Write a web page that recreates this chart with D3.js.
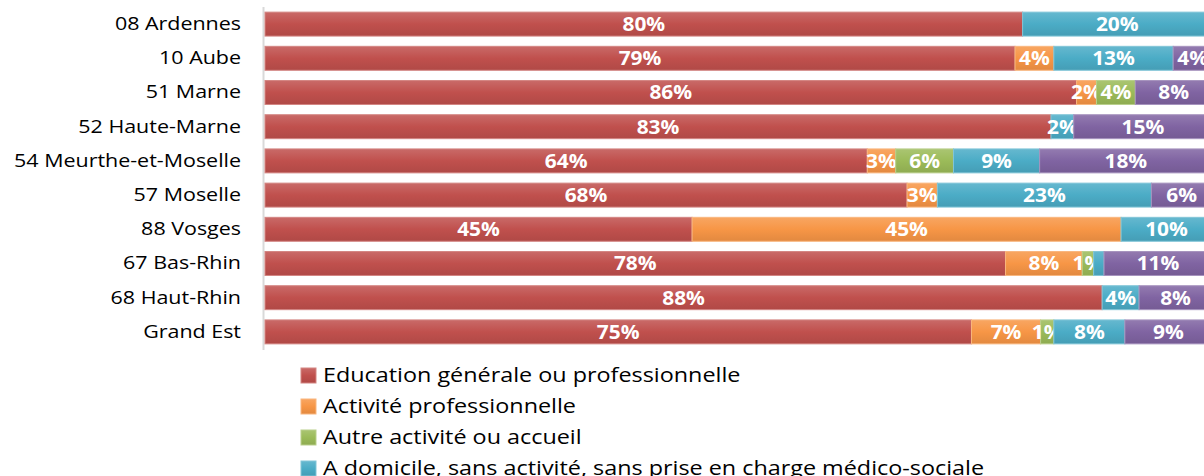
<!DOCTYPE html>
<html>
<head>
<meta charset="utf-8">
<script src="https://cdn.jsdelivr.net/npm/d3@7"></script>
<style>
  body { margin: 0; background: #fff; }
  text { font-family: "Open Sans", Lato, sans-serif; }
</style>
</head>
<body>
<script>
// categories and series (values in %)
const departements = ["08 Ardennes", "10 Aube", "51 Marne", "52 Haute-Marne",
  "54 Meurthe-et-Moselle", "57 Moselle", "88 Vosges", "67 Bas-Rhin", "68 Haut-Rhin", "Grand Est"];
const seriesNames = ["Education générale ou professionnelle", "Activité professionnelle",
  "Autre activité ou accueil", "A domicile, sans activité, sans prise en charge médico-sociale",
  "Prise en charge médico-sociale"];
const education = [80.0, 79.2, 85.7, 83.0, 63.6, 67.8, 45.1, 78.2, 88.4, 74.6];
const activite  = [0, 4.1, 2.1, 0, 3.0, 3.2, 45.3, 8.1, 0, 7.3];
const autre     = [0, 0, 4.1, 0, 6.1, 0, 0, 1.2, 0, 1.4];
const domicile  = [20.0, 12.6, 0, 2.4, 9.1, 22.6, 9.6, 1.1, 3.9, 7.5];
const medico    = [0, 4.1, 8.1, 14.6, 18.2, 6.4, 0, 11.4, 7.7, 9.2];
// label not shown in the picture
const hiddenLabels = [["67 Bas-Rhin", 3]];

const colors = ["#c0504d", "#f79646", "#9bbb59", "#4bacc6", "#8064a2"];

const width = 1204, height = 476;
const svg = d3.select("body").append("svg").attr("width", width).attr("height", height);

// the source text is a bit wider than the installed fonts: stretch it horizontally
function stretchX(sel, k) {
  sel.each(function () {
    const t = d3.select(this);
    const x0 = +t.attr("x") || 0;
    t.attr("x", x0 / k).attr("transform", `scale(${k},1)`);
  });
}

const rows = departements.map((d, i) => ({
  name: d, s0: education[i], s1: activite[i], s2: autre[i], s3: domicile[i], s4: medico[i]
}));
const keys = ["s0", "s1", "s2", "s3", "s4"];
const stacked = d3.stack().keys(keys)(rows);

const x = d3.scaleLinear().domain([0, 100]).range([265, 1212]);
const y = d3.scaleBand().domain(departements).range([7, 349]).paddingInner(0.3).paddingOuter(0.15);

// gradients like the office style
const defs = svg.append("defs");
colors.forEach((c, i) => {
  const g = defs.append("linearGradient").attr("id", "grad" + i)
    .attr("x1", 0).attr("y1", 0).attr("x2", 0).attr("y2", 1);
  g.append("stop").attr("offset", "0%").attr("stop-color", d3.interpolateRgb(c, "#fff")(0.15));
  g.append("stop").attr("offset", "50%").attr("stop-color", c);
  g.append("stop").attr("offset", "100%").attr("stop-color", d3.color(c).darker(0.25));
});

// axis line
svg.append("line")
  .attr("x1", 263.5).attr("x2", 263.5).attr("y1", 7).attr("y2", 350)
  .attr("stroke", "#d9d9d9").attr("stroke-width", 2);

// category labels
const yAxis = svg.append("g").attr("transform", "translate(263,0)")
  .call(d3.axisLeft(y).tickSize(0).tickPadding(22));
yAxis.select(".domain").remove();
yAxis.selectAll("text").attr("font-size", 18.5).attr("fill", "#000")
  .style("font-family", "'Open Sans', sans-serif");
stretchX(yAxis.selectAll("text"), 1.16);

// bars
const layers = svg.selectAll("g.layer").data(stacked).enter().append("g").attr("class", "layer");
layers.selectAll("rect").data((d) => d.map((v) => ({ v, key: d.key })))
  .enter().append("rect")
  .filter((d) => d.v[1] - d.v[0] > 0)
  .attr("x", (d) => x(d.v[0]))
  .attr("y", (d) => y(d.v.data.name))
  .attr("width", (d) => x(d.v[1]) - x(d.v[0]))
  .attr("height", y.bandwidth())
  .attr("fill", (d) => "url(#grad" + keys.indexOf(d.key) + ")")
  .attr("stroke", (d) => d3.interpolateRgb(colors[keys.indexOf(d.key)], "#fff")(0.3))
  .attr("stroke-width", 1);

// value labels
layers.each(function (layer) {
  const si = keys.indexOf(layer.key);
  const labels = d3.select(this).selectAll("text.val").data(layer.filter((v) => v[1] - v[0] > 0 &&
      !hiddenLabels.some((h) => h[0] === v.data.name && h[1] === si)))
    .enter().append("text").attr("class", "val")
    .attr("x", (v) => (x(v[0]) + x(v[1])) / 2)
    .attr("y", (v) => y(v.data.name) + y.bandwidth() / 2)
    .attr("dy", "0.36em")
    .attr("text-anchor", "middle")
    .attr("fill", "#fff")
    .attr("font-weight", "bold")
    .attr("font-size", 19)
    .text((v) => Math.round(v[1] - v[0]) + "%");
  stretchX(labels, 1.1);
});

// legend
const legend = svg.append("g");
seriesNames.forEach((n, i) => {
  const ly = 375 + i * 31;
  legend.append("rect").attr("x", 301).attr("y", ly - 7).attr("width", 15).attr("height", 15)
    .attr("fill", "url(#grad" + i + ")")
    .attr("stroke", d3.interpolateRgb(colors[i], "#fff")(0.3));
  const t = legend.append("text").attr("x", 323).attr("y", ly).attr("dy", "0.36em")
    .attr("font-size", 20.5).attr("fill", "#000").text(n);
  stretchX(t, 1.14);
});
</script>
</body>
</html>
